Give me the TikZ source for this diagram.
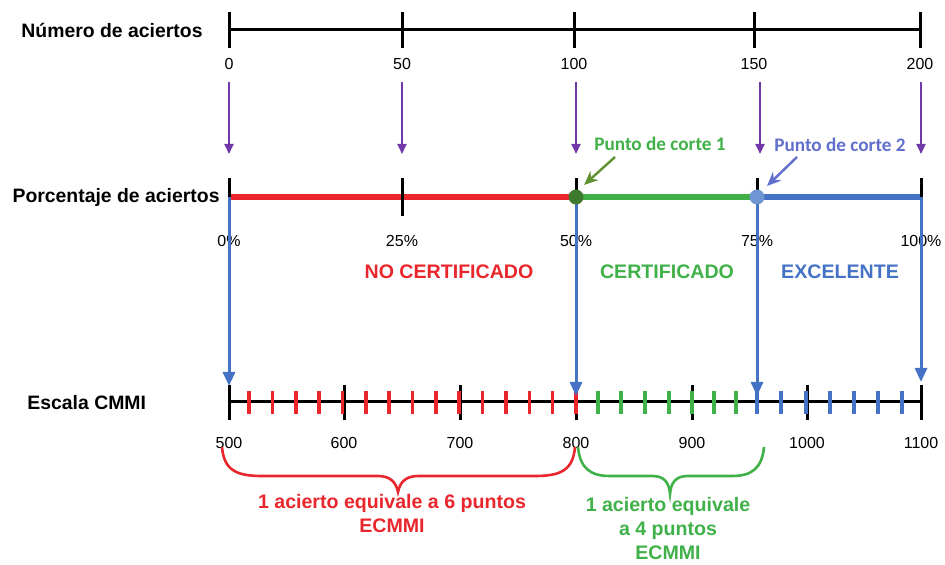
\documentclass[tikz,border=0pt]{standalone}
\usepackage{fontspec}
\setmainfont{Liberation Sans}
\newfontfamily\calibri{Carlito}
\usepackage{xcolor}
\usetikzlibrary{arrows.meta,positioning,calc}

\definecolor{ncred}{RGB}{232,38,44}
\definecolor{cgreen}{RGB}{64,176,72}
\definecolor{dkgreen}{RGB}{62,122,46}
\definecolor{olive}{RGB}{96,146,50}
\definecolor{exblue}{RGB}{68,114,196}
\definecolor{ltblue}{RGB}{110,150,210}
\definecolor{pcblue}{RGB}{96,110,204}
\definecolor{arrpurple}{RGB}{112,56,168}

\begin{document}
\begin{tikzpicture}[x=0.5pt, y=-0.5pt,
  axis/.style={line width=1.5pt, black},
  tck/.style={line width=1.5pt, black},
  sub/.style={line width=1.8pt},
  ttl/.style={font=\fontsize{9.7}{11}\selectfont\bfseries, inner sep=0pt},
  num/.style={font=\fontsize{8}{9}\selectfont, inner sep=1pt},
  band/.style={font=\fontsize{9.8}{11}\selectfont\bfseries, inner sep=0pt},
  corte/.style={font=\calibri\fontsize{9.6}{11}\selectfont\bfseries, inner sep=0pt},
  note/.style={font=\fontsize{9.8}{12}\selectfont\bfseries, align=center, inner sep=0pt},
  parr/.style={-{Triangle[length=5pt, width=4.5pt]}, line width=1pt, arrpurple},
  barr/.style={-{Triangle[length=7pt, width=6pt]}, line width=1.5pt, exblue},
  carr/.style={-{Stealth[length=7pt, width=6pt]}, line width=1.2pt},
  brc/.style={line width=1.3pt}
]
\useasboundingbox (0,0) rectangle (945,565);

% top axis: numero de aciertos
\node[ttl, anchor=east] (lnum) at (203,30) {Número de aciertos};
\draw[axis] (229,30) -- (920,30);
\foreach \x/\v [count=\i from 0] in {229/0,402/50,574/100,754/150,920/200} {
  \draw[tck] (\x,12) -- (\x,48);
  \node[num] (n\i) at (\x,64) {\v};
}

% middle axis: porcentaje
\node[ttl, anchor=east] (lpct) at (220,197) {Porcentaje de aciertos};
\coordinate (p0) at (229,197);
\coordinate (p1) at (402,197);
\coordinate (p2) at (576,197);
\coordinate (p3) at (757,197);
\coordinate (p4) at (921,197);
\draw[line width=2.6pt, ncred] (p0) -- (p2);
\draw[line width=2.6pt, cgreen] (p2) -- (p3);
\draw[line width=2.6pt, exblue] (p3) -- (p4);
\draw[tck] (229,178) -- (p0);
\draw[tck] (402,178) -- (402,216);
\foreach \c in {p2,p3,p4} \draw[tck] ($(\c)+(0,-19)$) -- (\c);
\foreach \c/\v in {p0/0\%,p1/25\%,p2/50\%,p3/75\%,p4/100\%}
  \node[num] (l\c) at ($(\c)+(0,44)$) {\v};

% purple arrows
\foreach \i/\x in {0/229,1/402,2/576,3/760,4/921}
  \draw[parr] (\x,82) -- (\x,154);

% bottom axis: escala CMMI
\node[ttl, anchor=west] (lcmmi) at (27,403) {Escala CMMI};
\draw[axis] (229,402) -- (921,402);
\foreach \x/\v in {229/500,344/600,460/700,576/800,692/900,807/1000,921/1100} {
  \draw[tck] (\x,385) -- (\x,420);
  \coordinate (e\v) at (\x,402);
  \node[num] (s\v) at (\x,443) {\v};
}
\foreach \k in {0,...,14}
  \draw[sub, ncred] ({249+23.36*\k},391) -- ({249+23.36*\k},414);
\foreach \x in {598,621,645,669,692,714,736}
  \draw[sub, cgreen] (\x,391) -- (\x,414);
\foreach \x in {757,781,806,830,854,878,902}
  \draw[sub, exblue] (\x,391) -- (\x,414);

% blue transfer arrows
\draw[barr] (p0) -- ($(e500)+(0,-16)$);
\draw[barr] (p2) -- ($(e800)+(0,-6)$);
\draw[barr] (p3) -- (757,396);
\draw[barr] (p4) -- ($(e1100)+(0,-20)$);

% cut points
\fill[dkgreen] (p2) circle (7.5);
\fill[ltblue] (p3) circle (7.5);
\node[corte, text=cgreen] (c1) at (660,144) {Punto de corte 1};
\node[corte, text=pcblue] (c2) at (840,145) {Punto de corte 2};
\draw[carr, olive] (615,157) -- (584,185);
\draw[carr, pcblue] (797,157) -- (767,186);

% bands
\node[band, text=ncred] (bno) at (449,272) {NO CERTIFICADO};
\node[band, text=cgreen] (bcert) at (667,272) {CERTIFICADO};
\node[band, text=exblue] (bexc) at (840,272) {EXCELENTE};

% braces
\draw[brc, ncred] (222,447) .. controls (224,470) and (236,476) .. (262,476)
  -- (378,476) .. controls (390,476) and (396,482) .. (398,492)
  .. controls (400,482) and (406,476) .. (418,476)
  -- (535,476) .. controls (561,476) and (573,470) .. (575,447);
\draw[brc, cgreen] (578,447) .. controls (580,468) and (590,476) .. (610,476)
  -- (652,476) .. controls (664,476) and (669,482) .. (670,494)
  .. controls (671,482) and (676,476) .. (688,476)
  -- (732,476) .. controls (752,476) and (762,468) .. (764,447);
\node[note, text=ncred, anchor=north] (tred) at (392,494) {1 acierto equivale a 6 puntos\\ECMMI};
\node[note, text=cgreen, anchor=north] (tgreen) at (668,497) {1 acierto equivale\\a 4 puntos\\ECMMI};
\end{tikzpicture}
\end{document}
